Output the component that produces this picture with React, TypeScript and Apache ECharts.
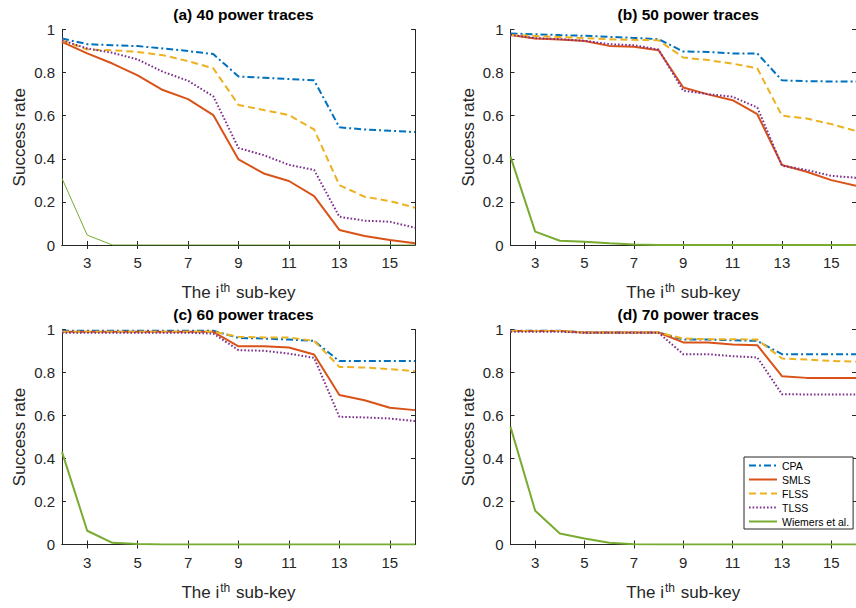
import React, { useEffect, useRef } from "react";
import * as echarts from "echarts";

const subkeys = [2, 3, 4, 5, 6, 7, 8, 9, 10, 11, 12, 13, 14, 15, 16];
const xTickValues = [3, 5, 7, 9, 11, 13, 15];
const seriesNames = ["CPA", "SMLS", "FLSS", "TLSS", "Wiemers et al."];
const panelTitles = ["(a) 40 power traces", "(b) 50 power traces", "(c) 60 power traces", "(d) 70 power traces"];

const cpa40 = [0.958, 0.932, 0.927, 0.923, 0.912, 0.9, 0.886, 0.782, 0.776, 0.77, 0.764, 0.546, 0.536, 0.53, 0.524];
const smls40 = [0.943, 0.889, 0.842, 0.787, 0.719, 0.677, 0.603, 0.397, 0.332, 0.297, 0.227, 0.07, 0.042, 0.023, 0.008];
const flss40 = [0.95, 0.907, 0.904, 0.896, 0.881, 0.853, 0.82, 0.65, 0.626, 0.603, 0.536, 0.278, 0.224, 0.204, 0.173];
const tlss40 = [0.95, 0.912, 0.892, 0.861, 0.804, 0.762, 0.69, 0.45, 0.417, 0.372, 0.348, 0.131, 0.113, 0.108, 0.08];
const wiem40 = [0.309, 0.046, 0, 0, 0, 0, 0, 0, 0, 0, 0, 0, 0, 0, 0];

const cpa50 = [0.981, 0.978, 0.974, 0.971, 0.966, 0.961, 0.955, 0.898, 0.896, 0.889, 0.889, 0.764, 0.76, 0.759, 0.759];
const smls50 = [0.974, 0.958, 0.954, 0.947, 0.924, 0.92, 0.904, 0.731, 0.699, 0.672, 0.607, 0.371, 0.34, 0.301, 0.275];
const flss50 = [0.975, 0.97, 0.965, 0.96, 0.955, 0.952, 0.95, 0.87, 0.858, 0.842, 0.82, 0.6, 0.587, 0.561, 0.529];
const tlss50 = [0.975, 0.96, 0.955, 0.948, 0.932, 0.927, 0.907, 0.716, 0.7, 0.688, 0.638, 0.368, 0.348, 0.321, 0.312];
const wiem50 = [0.41, 0.062, 0.02, 0.015, 0.008, 0.002, 0, 0, 0, 0, 0, 0, 0, 0, 0];

const cpa60 = [0.994, 0.994, 0.994, 0.994, 0.994, 0.994, 0.994, 0.961, 0.958, 0.953, 0.947, 0.853, 0.853, 0.853, 0.853];
const smls60 = [0.99, 0.99, 0.99, 0.99, 0.99, 0.99, 0.989, 0.922, 0.922, 0.916, 0.884, 0.695, 0.671, 0.636, 0.625];
const flss60 = [0.99, 0.99, 0.99, 0.99, 0.99, 0.99, 0.99, 0.966, 0.963, 0.963, 0.947, 0.826, 0.823, 0.816, 0.806];
const tlss60 = [0.985, 0.985, 0.985, 0.985, 0.985, 0.985, 0.981, 0.904, 0.901, 0.888, 0.868, 0.594, 0.591, 0.586, 0.574];
const wiem60 = [0.431, 0.064, 0.008, 0.002, 0, 0, 0, 0, 0, 0, 0, 0, 0, 0, 0];

const cpa70 = [0.994, 0.994, 0.994, 0.986, 0.986, 0.986, 0.986, 0.953, 0.953, 0.95, 0.947, 0.885, 0.885, 0.885, 0.885];
const smls70 = [0.993, 0.993, 0.993, 0.986, 0.986, 0.986, 0.986, 0.94, 0.94, 0.93, 0.927, 0.783, 0.775, 0.775, 0.775];
const flss70 = [0.993, 0.993, 0.993, 0.986, 0.986, 0.986, 0.986, 0.958, 0.955, 0.955, 0.953, 0.865, 0.86, 0.854, 0.85];
const tlss70 = [0.99, 0.99, 0.99, 0.985, 0.985, 0.985, 0.985, 0.885, 0.885, 0.876, 0.87, 0.699, 0.698, 0.698, 0.698];
const wiem70 = [0.547, 0.157, 0.051, 0.028, 0.008, 0.001, 0, 0, 0, 0, 0, 0, 0, 0, 0];

const panelData = [
  [cpa40, smls40, flss40, tlss40, wiem40],
  [cpa50, smls50, flss50, tlss50, wiem50],
  [cpa60, smls60, flss60, tlss60, wiem60],
  [cpa70, smls70, flss70, tlss70, wiem70],
];

const FONT = '"Liberation Sans", Arial, Helvetica, sans-serif';
const AX = "#262626";
const colors = ["#0072BD", "#D95319", "#EDB120", "#7E2F8E", "#77AC30"];
const dashes: any[] = [[7, 3, 2, 3], "solid", [7, 4], [1.6, 2], "solid"];

const grids = [
  { left: 62, top: 29.5, width: 353, height: 215.5 },
  { left: 510.5, top: 29.5, width: 345.5, height: 215.5 },
  { left: 62, top: 329.5, width: 353, height: 215 },
  { left: 510.5, top: 329.5, width: 345.5, height: 215 },
];

function buildOption() {
  const xAxis: any[] = [];
  const yAxis: any[] = [];
  const title: any[] = [];
  grids.forEach((g, i) => {
    title.push({
      text: panelTitles[i],
      left: g.left + g.width / 2,
      top: g.top - 28,
      textAlign: "center",
      textStyle: { fontFamily: FONT, fontSize: 15.5, fontWeight: "bold", color: "#000" },
    });
    const common = {
      type: "value",
      gridIndex: i,
      axisLine: { show: true, lineStyle: { color: AX, width: 1 } },
      splitLine: { show: false },
    };
    xAxis.push({
      ...common,
      position: "bottom",
      min: 2,
      max: 16,
      axisTick: { show: true, inside: true, length: 4, customValues: xTickValues, lineStyle: { color: AX } },
      axisLabel: {
        show: true,
        customValues: xTickValues,
        margin: 10,
        fontFamily: FONT,
        fontSize: 15,
        color: AX,
      },
      name: "{n|The i}{s|th}{n| sub-key}",
      nameLocation: "middle",
      nameGap: 37,
      nameTextStyle: {
        rich: {
          n: { fontFamily: FONT, fontSize: 17, color: AX },
          s: { fontFamily: FONT, fontSize: 12, color: AX, padding: [0, 1, 9, 1] },
        },
      },
    });
    xAxis.push({
      ...common,
      position: "top",
      min: 2,
      max: 16,
      axisTick: { show: true, inside: true, length: 4, customValues: xTickValues, lineStyle: { color: AX } },
      axisLabel: { show: false },
    });
    yAxis.push({
      ...common,
      position: "left",
      min: 0,
      max: 1,
      interval: 0.2,
      axisTick: { show: true, inside: true, length: 4, lineStyle: { color: AX } },
      axisLabel: { show: true, margin: 7, fontFamily: FONT, fontSize: 15, color: AX },
      name: "Success rate",
      nameLocation: "middle",
      nameGap: 34,
      nameTextStyle: { fontFamily: FONT, fontSize: 17, color: AX },
    });
    yAxis.push({
      ...common,
      position: "right",
      min: 0,
      max: 1,
      interval: 0.2,
      axisTick: { show: true, inside: true, length: 4, lineStyle: { color: AX } },
      axisLabel: { show: false },
    });
  });

  const series: any[] = [];
  // panel (d) first so the legend takes its line styles
  [3, 2, 1, 0].forEach((p) => {
    panelData[p].forEach((vals, s) => {
      series.push({
        type: "line",
        name: seriesNames[s],
        xAxisIndex: p * 2,
        yAxisIndex: p * 2,
        data: subkeys.map((x, k) => [x, vals[k]]),
        symbol: "none",
        showSymbol: false,
        lineStyle: {
          color: colors[s],
          width: p === 0 && s === 4 ? 1 : 2,
          type: dashes[s],
        },
        itemStyle: { color: colors[s] },
        z: 2 + s,
      });
    });
  });

  return {
    animation: false,
    backgroundColor: "#fff",
    title,
    grid: grids.map((g) => ({ ...g, containLabel: false })),
    xAxis,
    yAxis,
    legend: {
      data: seriesNames,
      orient: "vertical",
      left: 744,
      top: 457,
      itemWidth: 28,
      itemHeight: 12,
      itemGap: 3,
      padding: [3, 4, 2, 4],
      borderColor: AX,
      borderWidth: 1,
      backgroundColor: "#fff",
      itemStyle: { opacity: 0 },
      textStyle: { fontFamily: FONT, fontSize: 10.5, color: "#000" },
    },
    series,
  };
}

export default function App() {
  const ref = useRef<HTMLDivElement>(null);
  useEffect(() => {
    if (!ref.current) return;
    const chart = echarts.init(ref.current, undefined, { renderer: "svg" });
    chart.setOption(buildOption() as any);
    return () => chart.dispose();
  }, []);
  return (
    <div
      ref={ref}
      style={{ position: "absolute", left: 0, top: 0, width: 856, height: 608 }}
    />
  );
}
